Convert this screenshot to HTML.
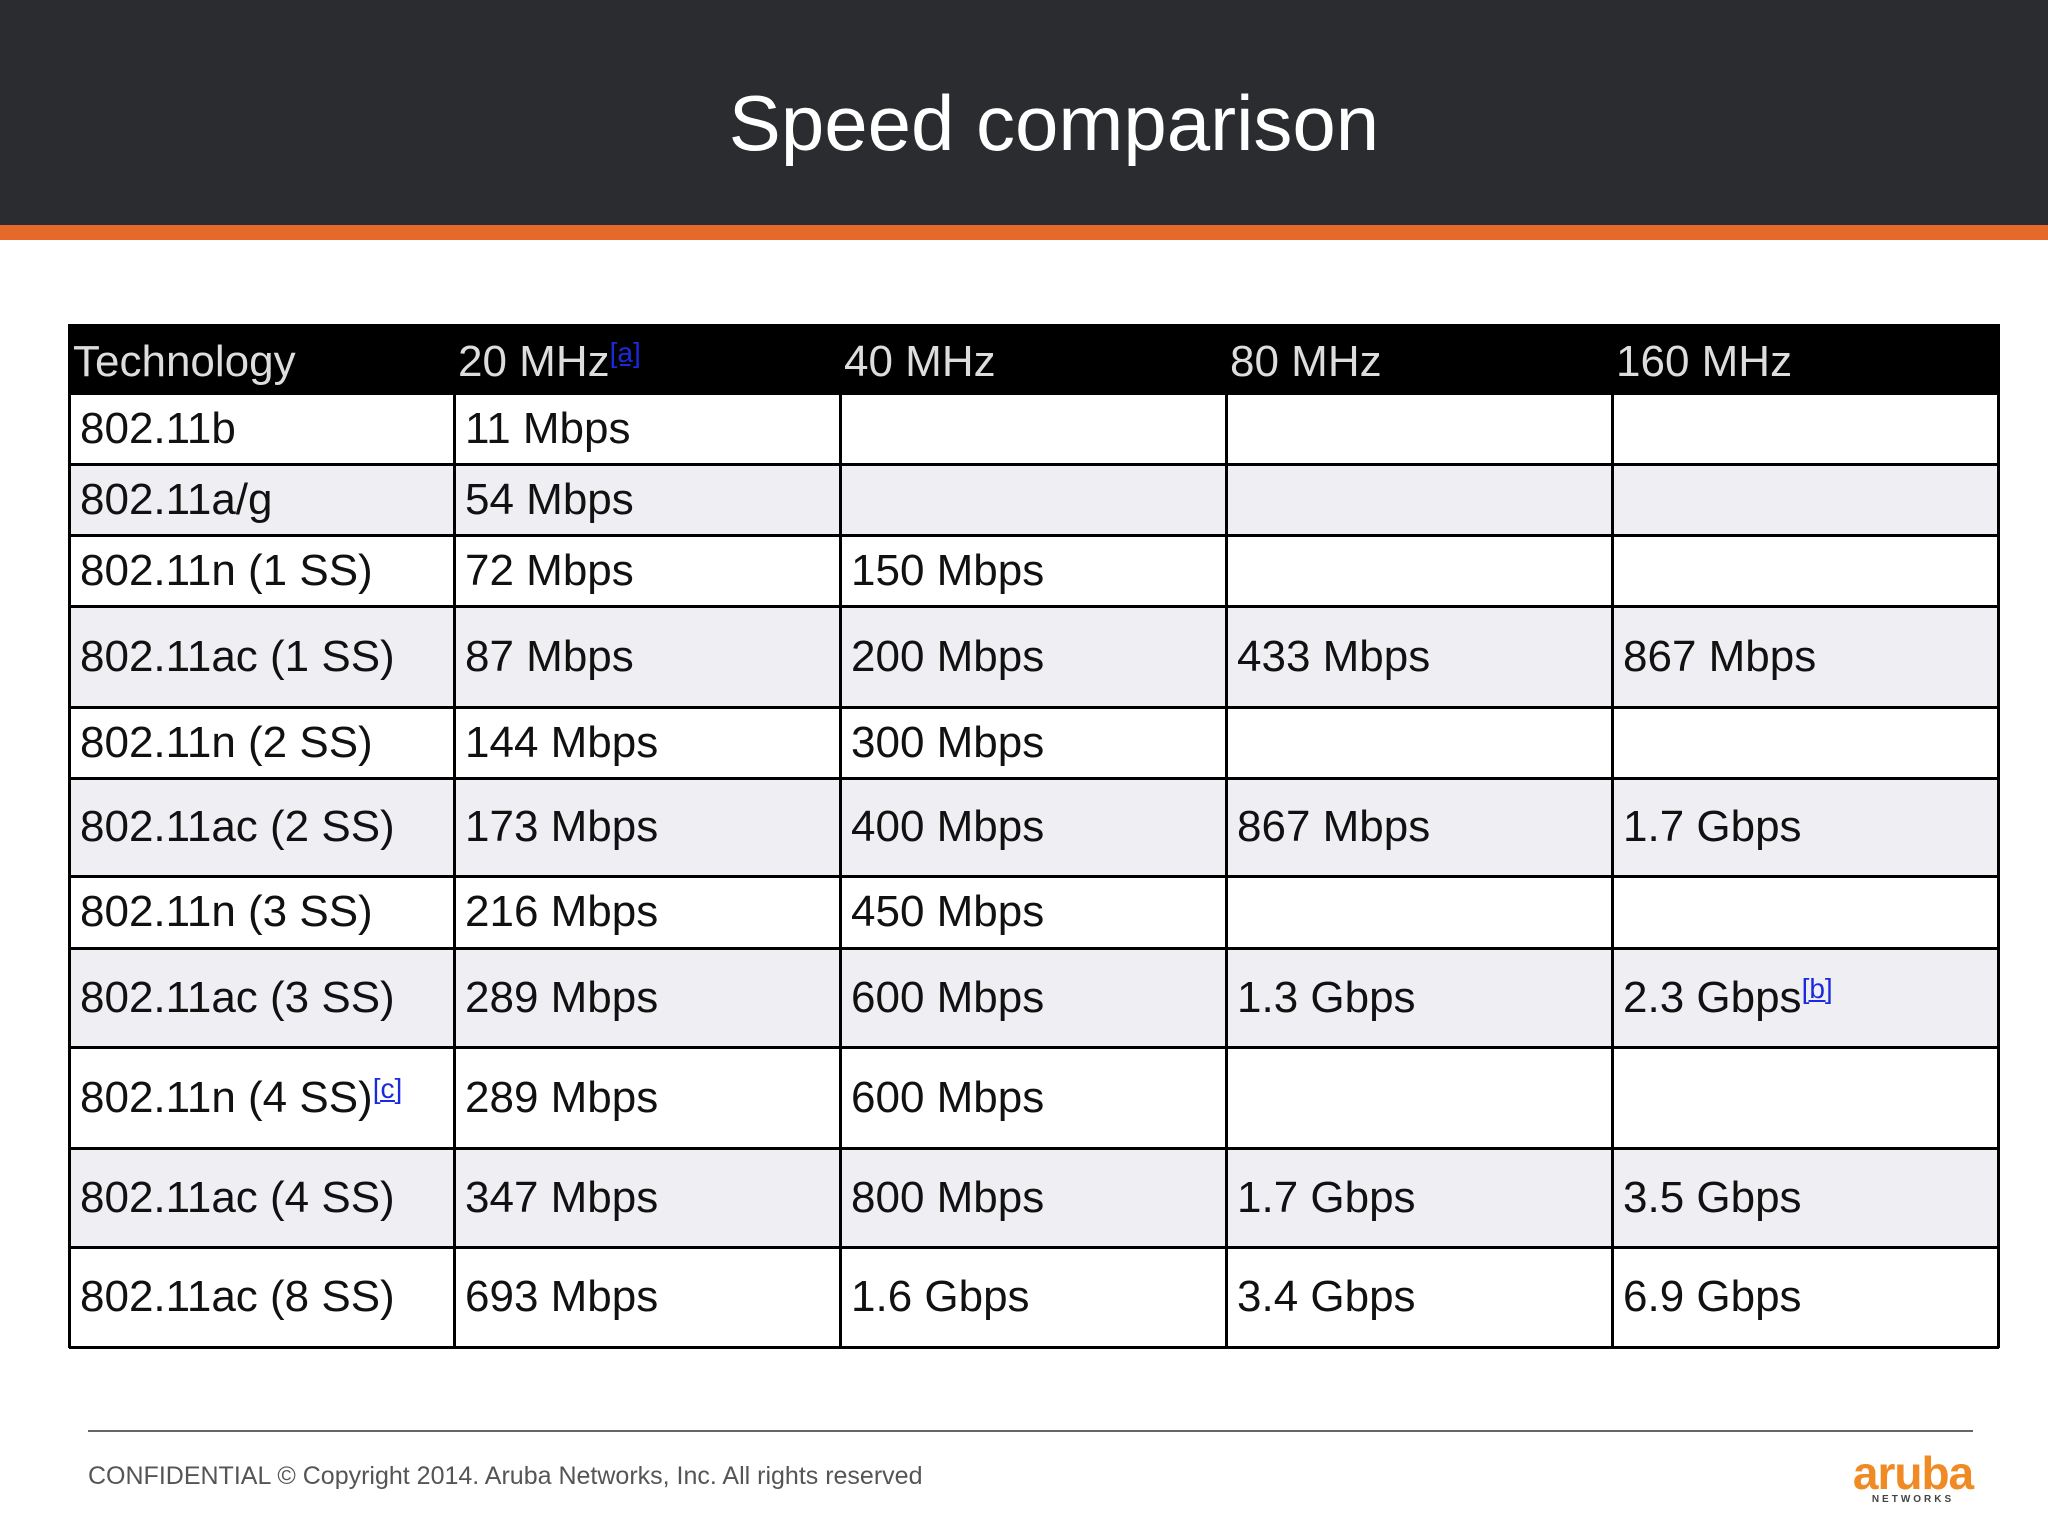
<!DOCTYPE html>
<html><head><meta charset="utf-8"><style>
body{margin:0;width:2048px;height:1536px;position:relative;background:#fff;font-family:"Liberation Sans",sans-serif;overflow:hidden}
.hdr{position:absolute;left:0;top:0;width:2048px;height:225px;background:#2b2c30}
.org{position:absolute;left:0;top:225px;width:2048px;height:15px;background:#e4692a}
.title{position:absolute;left:30px;width:2048px;top:78px;text-align:center;color:#fff;font-size:78px;line-height:90px}
.cell{position:absolute;box-sizing:border-box;font-size:44px;color:#111;padding-left:11px;display:flex;align-items:center}
.hc{color:#ddd;padding-left:4px;align-items:flex-end;padding-bottom:6px}
sup{color:#1a2adc;text-decoration:underline;font-size:28px;vertical-align:14px;line-height:0}
</style></head><body>
<div class="hdr"></div>
<div class="org"></div>
<div class="title">Speed comparison</div>
<div id="tbl"></div>
<div style="position:absolute;left:88px;top:1430px;width:1885px;height:2px;background:#666"></div>
<div style="position:absolute;left:88px;top:1462px;font-size:25px;color:#555">CONFIDENTIAL © Copyright 2014. Aruba Networks, Inc. All rights reserved</div>
<div style="position:absolute;left:1843px;top:1446px;width:140px;text-align:center;color:#f08a24;font-size:46px;font-weight:bold;letter-spacing:-1px">aruba<div style="font-size:10px;color:#444;letter-spacing:3px;margin-top:-6px;font-weight:bold">NETWORKS</div></div>
<script>
const cols=[69,454,840,1226,1612,1998];
const rowsY=[324,393,464,535,606,707,778,876,948,1047,1148,1247,1347];
const headers=["Technology","20 MHz<sup>[a]</sup>","40 MHz","80 MHz","160 MHz"];
const data=[
["802.11b","11 Mbps","","",""],
["802.11a/g","54 Mbps","","",""],
["802.11n (1 SS)","72 Mbps","150 Mbps","",""],
["802.11ac (1 SS)","87 Mbps","200 Mbps","433 Mbps","867 Mbps"],
["802.11n (2 SS)","144 Mbps","300 Mbps","",""],
["802.11ac (2 SS)","173 Mbps","400 Mbps","867 Mbps","1.7 Gbps"],
["802.11n (3 SS)","216 Mbps","450 Mbps","",""],
["802.11ac (3 SS)","289 Mbps","600 Mbps","1.3 Gbps","2.3 Gbps<sup>[b]</sup>"],
["802.11n (4 SS)<sup>[c]</sup>","289 Mbps","600 Mbps","",""],
["802.11ac (4 SS)","347 Mbps","800 Mbps","1.7 Gbps","3.5 Gbps"],
["802.11ac (8 SS)","693 Mbps","1.6 Gbps","3.4 Gbps","6.9 Gbps"]];
const t=document.getElementById('tbl');
function mk(x,y,w,h,html,cls,bg,name){const d=document.createElement('div');d.className='cell '+cls;
d.style.cssText=`left:${x}px;top:${y}px;width:${w}px;height:${h}px;background:${bg}`;d.innerHTML='<span>'+html+'</span>';


t.appendChild(d);}
const hb=document.createElement('div');hb.style.cssText=`position:absolute;left:${cols[0]}px;top:${rowsY[0]}px;width:${cols[5]-cols[0]}px;height:${rowsY[1]-rowsY[0]}px;background:#000`;


t.appendChild(hb);
headers.forEach((h,i)=>mk(cols[i],rowsY[0],cols[i+1]-cols[i],rowsY[1]-rowsY[0],h,'hc','transparent','column-header'));
data.forEach((r,ri)=>{const bg=ri%2?'#efeef2':'#fff';r.forEach((c,ci)=>mk(cols[ci],rowsY[ri+1],cols[ci+1]-cols[ci],rowsY[ri+2]-rowsY[ri+1],c,'',bg,'table-cell'));});
rowsY.slice(1).forEach(y=>{const l=document.createElement('div');l.style.cssText=`position:absolute;left:${cols[0]}px;top:${y-1}px;width:${cols[5]-cols[0]+1}px;height:3px;background:#000`;


t.appendChild(l);});
cols.forEach(x=>{const l=document.createElement('div');l.style.cssText=`position:absolute;left:${x-1}px;top:${rowsY[0]}px;width:3px;height:${rowsY[12]-rowsY[0]+1}px;background:#000`;


t.appendChild(l);});
</script>
</body></html>
